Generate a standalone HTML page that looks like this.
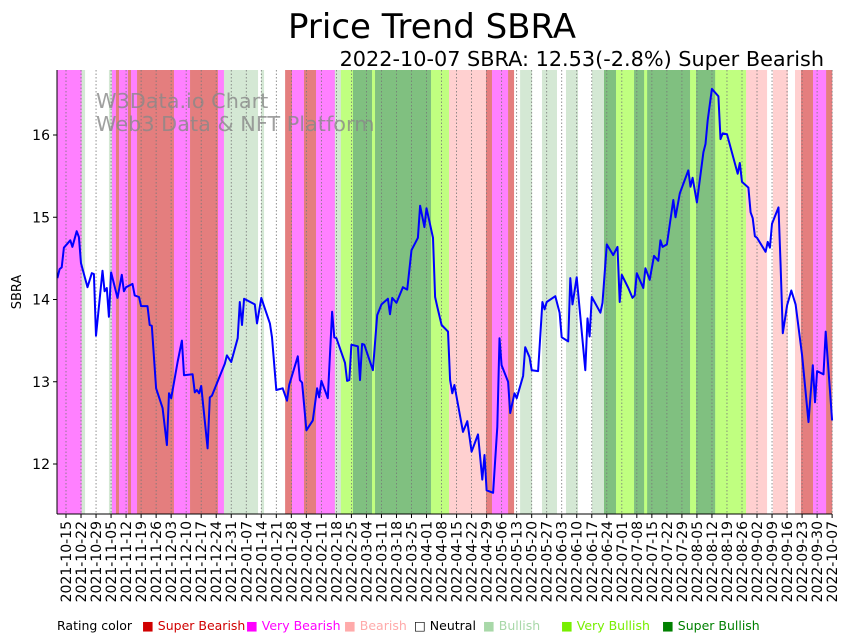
<!DOCTYPE html>
<html><head><meta charset="utf-8"><style>
html,body{margin:0;padding:0;background:#fff;}
svg{display:block;font-family:"DejaVu Sans","Liberation Sans",sans-serif;}
</style></head><body>
<svg id="chart" width="849" height="641" viewBox="0 0 849 641" xmlns="http://www.w3.org/2000/svg">
<text x="432" y="38" font-size="34" text-anchor="middle" fill="#000">Price Trend SBRA</text>
<text x="824" y="66" font-size="20.8" text-anchor="end" fill="#000">2022-10-07 SBRA: 12.53(-2.8%) Super Bearish</text>
<g id="bands"></g>
<g id="grid"></g>
<text x="96" y="108" font-size="20.8" fill="#888" fill-opacity="0.8">W3Data.io Chart</text>
<text x="96" y="131" font-size="20.8" fill="#888" fill-opacity="0.8">Web3 Data &amp; NFT Platform</text>
<polyline id="line" fill="none" stroke="#0000ff" stroke-width="2" stroke-linejoin="round"/>
<g id="axes"></g>
<text transform="translate(21,292) rotate(-90)" font-size="13" text-anchor="middle">SBRA</text>
<g font-size="12.5">
<text x="57" y="630" fill="#000">Rating color</text>
<text x="142" y="630" fill="#d00000">■ Super Bearish</text>
<text x="246" y="630" fill="#ff00ff">■ Very Bearish</text>
<text x="344" y="630" fill="#ffaaaa">■ Bearish</text>
<text x="414" y="630" fill="#000">□ Neutral</text>
<text x="483" y="630" fill="#a8d8a8">■ Bullish</text>
<text x="561" y="630" fill="#77ee00">■ Very Bullish</text>
<text x="662" y="630" fill="#008000">■ Super Bullish</text>
</g>
</svg>
<script>
// days since 2021-10-15
const days=[-4,-3,-2,-1,2,3,5,6,7,10,12,13,14,17,18,19,20,21,24,26,27,28,31,32,34,35,38,39,40,42,45,47,48,49,52,54,55,59,60,61,62,63,66,67,68,74,75,77,80,81,82,83,88,89,91,95,96,98,101,103,104,108,109,110,112,115,117,118,119,121,122,124,125,126,130,131,132,133,136,137,138,139,143,145,147,150,151,152,154,157,159,161,164,165,167,168,171,172,173,175,178,179,180,181,185,187,189,192,194,195,196,199,201,202,203,206,207,209,210,213,214,216,217,220,222,223,224,228,230,231,234,235,236,238,242,243,244,245,249,250,252,255,257,258,259,262,264,265,266,269,270,272,274,276,277,278,280,283,284,286,290,291,292,294,297,298,299,301,304,305,306,308,313,314,315,318,319,320,321,322,326,327,328,329,332,333,334,336,338,340,343,346,348,349,350,353,354,357];
const prices=[14.26,14.37,14.39,14.63,14.72,14.64,14.83,14.76,14.44,14.15,14.32,14.31,13.56,14.35,14.10,14.14,13.79,14.33,14.02,14.30,14.10,14.15,14.19,14.05,14.03,13.92,13.92,13.69,13.68,12.92,12.68,12.23,12.86,12.80,13.24,13.50,13.08,13.09,12.87,12.90,12.86,12.95,12.19,12.81,12.83,13.22,13.32,13.24,13.53,13.97,13.69,14.01,13.94,13.71,14.02,13.71,13.54,12.90,12.92,12.77,12.96,13.31,13.02,12.99,12.41,12.53,12.92,12.81,13.01,12.87,12.80,13.85,13.54,13.53,13.23,13.01,13.02,13.45,13.43,13.02,13.46,13.45,13.14,13.81,13.94,14.01,13.82,14.02,13.96,14.15,14.12,14.60,14.75,15.14,14.88,15.11,14.75,14.03,13.91,13.69,13.61,13.02,12.86,12.96,12.39,12.52,12.15,12.36,11.81,12.11,11.68,11.65,12.45,13.53,13.20,13.00,12.62,12.86,12.80,13.07,13.42,13.30,13.14,13.13,13.97,13.88,13.97,14.04,13.84,13.54,13.49,14.26,13.94,14.27,13.14,13.77,13.55,14.03,13.84,13.96,14.67,14.54,14.64,13.97,14.30,14.14,14.02,14.05,14.32,14.14,14.38,14.24,14.53,14.47,14.72,14.64,14.67,15.21,15.00,15.29,15.57,15.37,15.48,15.18,15.79,15.89,16.18,16.56,16.47,15.95,16.02,16.01,15.53,15.66,15.43,15.36,15.06,14.99,14.77,14.75,14.58,14.70,14.63,14.92,15.12,14.42,13.59,13.93,14.11,13.94,13.32,12.51,13.20,12.75,13.13,13.09,13.61,12.53];
const bandStart=[-4.2,7.3,8.9,20,21.4,23.3,24.7,28.9,30.3,33.1,50.3,57.8,70.8,73.6,89.5,90.9,92.3,102.1,105.3,110.9,116.5,125.3,128.1,133.7,142.6,144,170.1,178.5,195.7,198.5,206,208.8,211.6,217.2,221.8,228.8,233,238.6,245.1,250.7,256.3,264.7,269.4,270.8,290.8,293.6,302.5,316.9,326.7,329.4,336.4,339.7,342.5,348.1,354.2];
const bandEnd=[7.3,8.9,20,21.4,23.3,24.7,28.9,30.3,33.1,50.3,57.8,70.8,73.6,89.5,90.9,92.3,102.1,105.3,110.9,116.5,125.3,128.1,133.7,142.6,144,170.1,178.5,195.7,198.5,206,208.8,211.6,217.2,221.8,228.8,233,238.6,245.1,250.7,256.3,264.7,269.4,270.8,290.8,293.6,302.5,316.9,326.7,329.4,336.4,339.7,342.5,348.1,354.2,357];
const bandRating=[1,4,3,4,1,0,1,0,1,0,1,0,1,4,3,4,3,0,1,0,1,4,5,6,5,6,5,2,0,1,0,3,4,3,4,3,4,3,4,6,5,6,5,6,5,6,5,2,3,2,3,2,0,1,0];
const yTicks=[12,13,14,15,16];
const weekCount=52;

const ratingColors=['#e47e7e','#ff80ff','#ffd0d0','#ffffff','#d4e8d4','#c0ff80','#80c080'];
const L=57,R=832,T=70,B=514;
const xS=d=>66+d*2.146;
const yS=v=>464-(v-12)*82.25;
const NS='http://www.w3.org/2000/svg';
function mk(tag,attrs,parent){const e=document.createElementNS(NS,tag);for(const k in attrs)e.setAttribute(k,attrs[k]);parent.appendChild(e);return e;}

const bandsG=document.getElementById('bands');
for(let i=0;i<bandStart.length;i++){
  const x0=Math.max(L,xS(bandStart[i])),x1=Math.min(R,xS(bandEnd[i]));
  const r=mk('rect',{x:x0,y:T,width:Math.max(0,x1-x0+0.3),height:B-T,fill:ratingColors[bandRating[i]]},bandsG);
  
  
}
const gridG=document.getElementById('grid');
const axesG=document.getElementById('axes');
const base=Date.UTC(2021,9,15);
for(let i=0;i<weekCount;i++){
  const x=xS(i*7);
  const g=mk('line',{x1:x,x2:x,y1:T,y2:B,stroke:'#777','stroke-width':0.8,'stroke-dasharray':'1.5,2'},gridG);
  
  
  const t=mk('line',{x1:x,x2:x,y1:B,y2:B+4,stroke:'#000','stroke-width':1},axesG);
  
  
  const d=new Date(base+i*7*86400000);
  const s=d.toISOString().slice(0,10);
  const lb=mk('text',{transform:`translate(${x+5},${B+7}) rotate(-90)`,'font-size':14,'text-anchor':'end',fill:'#000'},axesG);
  lb.textContent=s;
  
  
}
for(const v of yTicks){
  const y=yS(v);
  const t=mk('line',{x1:L-4,x2:L,y1:y,y2:y,stroke:'#000','stroke-width':1},axesG);
  
  
  const lb=mk('text',{x:L-7,y:y+5,'font-size':14,'text-anchor':'end',fill:'#000'},axesG);
  lb.textContent=v;
  
  
}
const ls=mk('line',{x1:L,x2:L,y1:T,y2:B,stroke:'#000','stroke-width':1},axesG);


const bs=mk('line',{x1:L,x2:R,y1:B,y2:B,stroke:'#000','stroke-width':1},axesG);



const pts=days.map((d,i)=>{const x=Math.max(L,xS(d));return x.toFixed(1)+','+yS(prices[i]).toFixed(1);});
document.getElementById('line').setAttribute('points',pts.join(' '));
</script>
</body></html>
